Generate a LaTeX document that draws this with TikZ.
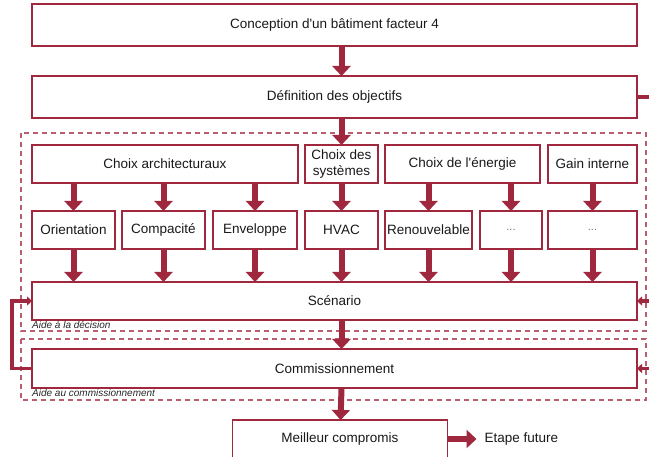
\documentclass[tikz,border=0pt]{standalone}
\usepackage{fontspec}
\setmainfont{Liberation Sans}
\usetikzlibrary{positioning,arrows.meta}
\definecolor{rouge}{RGB}{160,40,62}
\tikzset{node distance=28pt, x=1pt, y=-1pt,
  bloc/.style={draw=rouge, line width=1.5pt, fill=white, text=black!90,
    minimum height=38pt, inner sep=2pt, outer sep=0pt, align=center,
    font=\fontsize{13.5}{15.5}\selectfont},
  large/.style={bloc, minimum width=605pt},
  flow/.style={draw=rouge, line width=6pt, -{Triangle[width=18pt,length=10pt]}},
  retour/.style={draw=rouge, line width=3.5pt, -{Triangle[width=9pt,length=5pt]}},
  zone/.style={draw=rouge!75, line width=1.2pt, dash pattern=on 5pt off 4pt},
  aide/.style={font=\fontsize{10}{12}\selectfont\itshape, text=black!85,
    inner sep=0pt, anchor=base west}}
\newcommand{\etc}{{\color{black!55}\fontsize{11}{12}\selectfont ...}}

\begin{document}
\begin{tikzpicture}
  \useasboundingbox (0,0) rectangle (649,457);
  \coordinate (bord) at (649,0);
  \coordinate (gauche) at (12,0);

  % zones d'aide
  \draw[zone] (21,133) rectangle (646,331);
  \draw[zone] (21,339) rectangle (646,400);

  \node[large, minimum height=42pt] (concept) at (334.5,25) {Conception d\textquotesingle un bâtiment facteur 4};
  \node[large, minimum height=42pt] (defin) [below=30pt of concept] {Définition des objectifs};

  \node[bloc, minimum width=266pt] (archi) [below right=27pt and 0pt of defin.south west] {Choix architecturaux};
  \node[bloc, minimum width=73pt] (systemes) [right=7pt of archi] {Choix des\\systèmes};
  \node[bloc, minimum width=155pt] (energie) [right=7pt of systemes] {Choix de l\textquotesingle énergie};
  \node[bloc, minimum width=89pt] (gain) [right=8pt of energie] {Gain interne};

  \node[bloc, minimum width=83pt] (orient) [below right=28pt and 0pt of archi.south west] {Orientation};
  \node[bloc, minimum width=83pt] (compac) [right=7pt of orient] {Compacité};
  \node[bloc, minimum width=84pt] (envel) [right=8pt of compac] {Enveloppe};
  \node[bloc, minimum width=73pt] (hvac) [right=8pt of envel] {HVAC};
  \node[bloc, minimum width=87pt] (renouv) [right=7pt of hvac] {Renouvelable};
  \node[bloc, minimum width=62pt] (autre1) [right=8pt of renouv] {\etc};
  \node[bloc, minimum width=89pt] (autre2) [right=6pt of autre1] {\etc};

  \node[large] (scen) [below right=33pt and 0pt of orient.south west] {Scénario};
  \node[large, minimum height=39pt] (comm) [below=29pt of scen] {Commissionnement};
  \node[bloc, minimum width=215pt] (meil) at (340,439) {Meilleur compromis};
  \node[bloc, draw=none, fill=none, inner xsep=8pt, minimum height=0pt] (futur) [right=29pt of meil] {Etape future};

  \node[aide] (aidedec) at (32,329) {Aide à la décision};
  \node[aide] (aidecom) at (32,397) {Aide au commissionnement};

  \draw[flow] (concept.south -| hvac) -- (defin.north -| hvac);
  \draw[flow] (defin.south -| hvac) -- (systemes);
  \foreach \a/\b in {archi/orient, archi/compac, archi/envel, systemes/hvac,
                     energie/renouv, energie/autre1, gain/autre2}
    \draw[flow] (\a.south -| \b) -- (\b);
  \foreach \b in {orient, compac, envel, hvac, renouv, autre1, autre2}
    \draw[flow] (\b) -- (scen.north -| \b);
  \draw[flow] (scen.south -| hvac) -- (comm.north -| hvac);
  \draw[flow] (comm.south -| hvac) -- (meil);
  \draw[flow] (meil) -- (futur);

  % retours
  \draw[retour, -] (defin.east) -- (defin.east -| bord);
  \draw[retour] (scen.east -| bord) -- (scen);
  \draw[retour] (comm.east -| bord) -- (comm);
  \draw[retour] (comm.west) -- (comm.west -| gauche) -- (scen.west -| gauche) -- (scen.west);
\end{tikzpicture}
\end{document}
